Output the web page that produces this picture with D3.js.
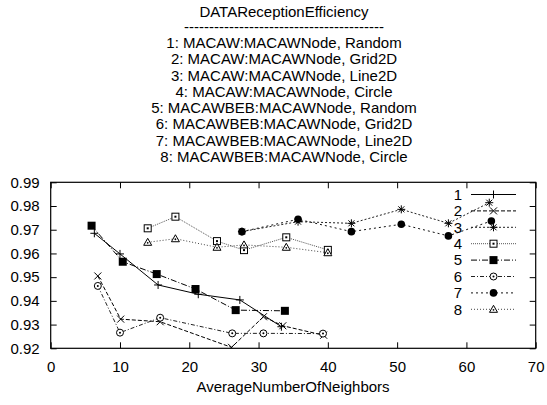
<!DOCTYPE html>
<html>
<head>
<meta charset="utf-8">
<script src="https://cdn.jsdelivr.net/npm/d3@7"></script>
<style>
  html, body { margin: 0; padding: 0; background: #fff; }
  svg { display: block; font-family: "Liberation Sans", Arial, sans-serif; }
</style>
</head>
<body>
<svg id="chart" width="547" height="405"></svg>
<script>
// Title block
const titleLines = [
  "DATAReceptionEfficiency",
  "----------------------------------------",
  "1: MACAW:MACAWNode, Random",
  "2: MACAW:MACAWNode, Grid2D",
  "3: MACAW:MACAWNode, Line2D",
  "4: MACAW:MACAWNode, Circle",
  "5: MACAWBEB:MACAWNode, Random",
  "6: MACAWBEB:MACAWNode, Grid2D",
  "7: MACAWBEB:MACAWNode, Line2D",
  "8: MACAWBEB:MACAWNode, Circle"
];

// Axis ticks
const xTicks = [0, 10, 20, 30, 40, 50, 60, 70];
const yTicks = [0.92, 0.93, 0.94, 0.95, 0.96, 0.97, 0.98, 0.99];
const xLabel = "AverageNumberOfNeighbors";

// Series names and values
const seriesNames = ["1", "2", "3", "4", "5", "6", "7", "8"];

const s1x = [6.3, 10.0, 15.5, 21.3, 27.3, 33.3];
const s1y = [0.9685, 0.9598, 0.9467, 0.9428, 0.9404, 0.9291];

const s2x = [6.8, 10.1, 15.8, 26.1, 30.7, 33.5, 39.4];
const s2y = [0.9505, 0.9323, 0.9312, 0.9204, 0.9333, 0.9295, 0.9255];

const s3x = [27.6, 35.7, 43.4, 50.6, 57.4, 63.3];
const s3y = [0.9692, 0.9734, 0.9727, 0.9786, 0.9727, 0.9814];

const s4x = [14.0, 18.0, 24.0, 27.9, 34.0, 40.0];
const s4y = [0.9706, 0.9755, 0.9652, 0.9614, 0.9668, 0.9615];

const s5x = [5.9, 10.4, 15.3, 20.9, 26.7, 33.8];
const s5y = [0.9717, 0.9565, 0.9513, 0.9450, 0.9361, 0.9358];

const s6x = [6.8, 10.0, 15.8, 26.2, 30.7, 39.3];
const s6y = [0.9463, 0.9266, 0.9329, 0.9263, 0.9263, 0.9262];

const s7x = [27.6, 35.7, 43.4, 50.6, 57.4, 63.6];
const s7y = [0.9692, 0.9744, 0.9692, 0.9723, 0.9674, 0.9737];

const s8x = [14.0, 18.0, 24.0, 27.9, 34.0, 40.0];
const s8y = [0.9647, 0.9662, 0.9626, 0.9636, 0.9626, 0.9603];

const allX = [s1x, s2x, s3x, s4x, s5x, s6x, s7x, s8x];
const allY = [s1y, s2y, s3y, s4y, s5y, s6y, s7y, s8y];

// Line and marker style per series
const styles = [
  { dash: null,          stroke: "#000", marker: "plus" },
  { dash: "4,2",         stroke: "#000", marker: "cross" },
  { dash: "2,2",         stroke: "#222", marker: "star" },
  { dash: "1,1",         stroke: "#555", marker: "square" },
  { dash: "6,2,1,2",     stroke: "#000", marker: "fsquare" },
  { dash: "4,2,1,2",     stroke: "#222", marker: "circle" },
  { dash: "2,3",         stroke: "#111", marker: "fcircle" },
  { dash: "1,2",         stroke: "#444", marker: "triangle" }
];

const svg = d3.select("#chart");
const plot = { left: 50.7, right: 535.7, top: 182.3, bottom: 348.3 };

const x = d3.scaleLinear().domain([0, 70]).range([plot.left, plot.right]);
const y = d3.scaleLinear().domain([0.92, 0.99]).range([plot.bottom, plot.top]);

// Title
const title = svg.append("g").attr("font-size", 15).attr("fill", "#000").attr("text-anchor", "middle");
titleLines.forEach((t, i) => {
  const yy = i === 0 ? 11.5 : (i === 1 ? 27 : 42.7 + (i - 2) * 16.3);
  title.append("text").attr("x", 284).attr("y", yy).attr("dy", "0.35em").text(t);
});

// Clip for data
svg.append("clipPath").attr("id", "clip")
  .append("rect").attr("x", plot.left).attr("y", plot.top)
  .attr("width", plot.right - plot.left).attr("height", plot.bottom - plot.top);

// Axes with inward ticks on all four sides
const tickLen = 6;
const axB = d3.axisBottom(x).tickValues(xTicks).tickSize(-tickLen).tickPadding(tickLen + 7).tickFormat(d3.format("d"));
const axT = d3.axisTop(x).tickValues(xTicks).tickSize(-tickLen).tickFormat("");
const axL = d3.axisLeft(y).tickValues(yTicks).tickSize(-tickLen).tickPadding(tickLen + 5).tickFormat(d3.format(".2f"));
const axR = d3.axisRight(y).tickValues(yTicks).tickSize(-tickLen).tickFormat("");

function styleAxis(g) {
  g.select(".domain").remove();
  g.selectAll(".tick line").attr("stroke", "#000").attr("stroke-width", 1);
  g.selectAll("text").attr("font-size", 15).attr("fill", "#000")
    .attr("font-family", "Liberation Sans, Arial, sans-serif");
}
svg.append("g").attr("transform", `translate(0,${plot.bottom})`).call(axB).call(styleAxis);
svg.append("g").attr("transform", `translate(0,${plot.top})`).call(axT).call(styleAxis);
svg.append("g").attr("transform", `translate(${plot.left},0)`).call(axL).call(styleAxis);
svg.append("g").attr("transform", `translate(${plot.right},0)`).call(axR).call(styleAxis);

// Frame
svg.append("rect").attr("x", plot.left).attr("y", plot.top)
  .attr("width", plot.right - plot.left).attr("height", plot.bottom - plot.top)
  .attr("fill", "none").attr("stroke", "#000").attr("stroke-width", 1.2);

// x axis label
svg.append("text").attr("x", 293).attr("y", 387).attr("dy", "0.35em")
  .attr("text-anchor", "middle").attr("font-size", 15).text(xLabel);

// Marker drawing
function drawMarker(g, type, cx, cy) {
  const s = 4;
  const path = (d, fill) => g.append("path").attr("d", d).attr("fill", fill || "none")
    .attr("stroke", "#000").attr("stroke-width", 1);
  switch (type) {
    case "plus":
      path(`M${cx - s},${cy}H${cx + s}M${cx},${cy - s}V${cy + s}`); break;
    case "cross":
      path(`M${cx - 3.5},${cy - 3.5}L${cx + 3.5},${cy + 3.5}M${cx - 3.5},${cy + 3.5}L${cx + 3.5},${cy - 3.5}`); break;
    case "star":
      path(`M${cx - s},${cy}H${cx + s}M${cx},${cy - s}V${cy + s}M${cx - 3},${cy - 3}L${cx + 3},${cy + 3}M${cx - 3},${cy + 3}L${cx + 3},${cy - 3}`); break;
    case "square":
      g.append("rect").attr("x", cx - 3.5).attr("y", cy - 3.5).attr("width", 7).attr("height", 7)
        .attr("fill", "#fff").attr("stroke", "#000").attr("stroke-width", 1);
      g.append("rect").attr("x", cx - 1).attr("y", cy - 1).attr("width", 2).attr("height", 2).attr("fill", "#000");
      break;
    case "fsquare":
      g.append("rect").attr("x", cx - 4).attr("y", cy - 4).attr("width", 8).attr("height", 8).attr("fill", "#000");
      break;
    case "circle":
      g.append("circle").attr("cx", cx).attr("cy", cy).attr("r", 3.5)
        .attr("fill", "#fff").attr("stroke", "#000").attr("stroke-width", 1);
      g.append("circle").attr("cx", cx).attr("cy", cy).attr("r", 1).attr("fill", "#000");
      break;
    case "fcircle":
      g.append("circle").attr("cx", cx).attr("cy", cy).attr("r", 3.8).attr("fill", "#000");
      break;
    case "triangle":
      g.append("path").attr("d", `M${cx},${cy - 4}L${cx + 4},${cy + 3}L${cx - 4},${cy + 3}Z`)
        .attr("fill", "#fff").attr("stroke", "#000").attr("stroke-width", 1);
      g.append("circle").attr("cx", cx).attr("cy", cy + 0.5).attr("r", 0.9).attr("fill", "#000");
      break;
  }
}

// Series lines and markers
const line = d3.line().x(d => x(d[0])).y(d => y(d[1]));
const dataG = svg.append("g").attr("clip-path", "url(#clip)");
allX.forEach((xs, i) => {
  const pts = xs.map((v, j) => [v, allY[i][j]]);
  const st = styles[i];
  const g = dataG.append("g");
  g.append("path").datum(pts).attr("d", line).attr("fill", "none")
    .attr("stroke", st.stroke).attr("stroke-width", 1)
    .attr("stroke-dasharray", st.dash);
  pts.forEach(p => drawMarker(g, st.marker, x(p[0]), y(p[1])));
});

// Legend
const legend = svg.append("g");
const legNumX = 462, legL = 471, legR = 516, legM = 493.5;
seriesNames.forEach((name, i) => {
  const ly = 194.5 + i * 16.4;
  legend.append("text").attr("x", legNumX).attr("y", ly).attr("dy", "0.35em")
    .attr("text-anchor", "end").attr("font-size", 15).text(name);
  const st = styles[i];
  legend.append("line").attr("x1", legL).attr("x2", legR).attr("y1", ly).attr("y2", ly)
    .attr("stroke", st.stroke).attr("stroke-width", 1).attr("stroke-dasharray", st.dash);
  drawMarker(legend, st.marker, legM, ly);
});
</script>
</body>
</html>
